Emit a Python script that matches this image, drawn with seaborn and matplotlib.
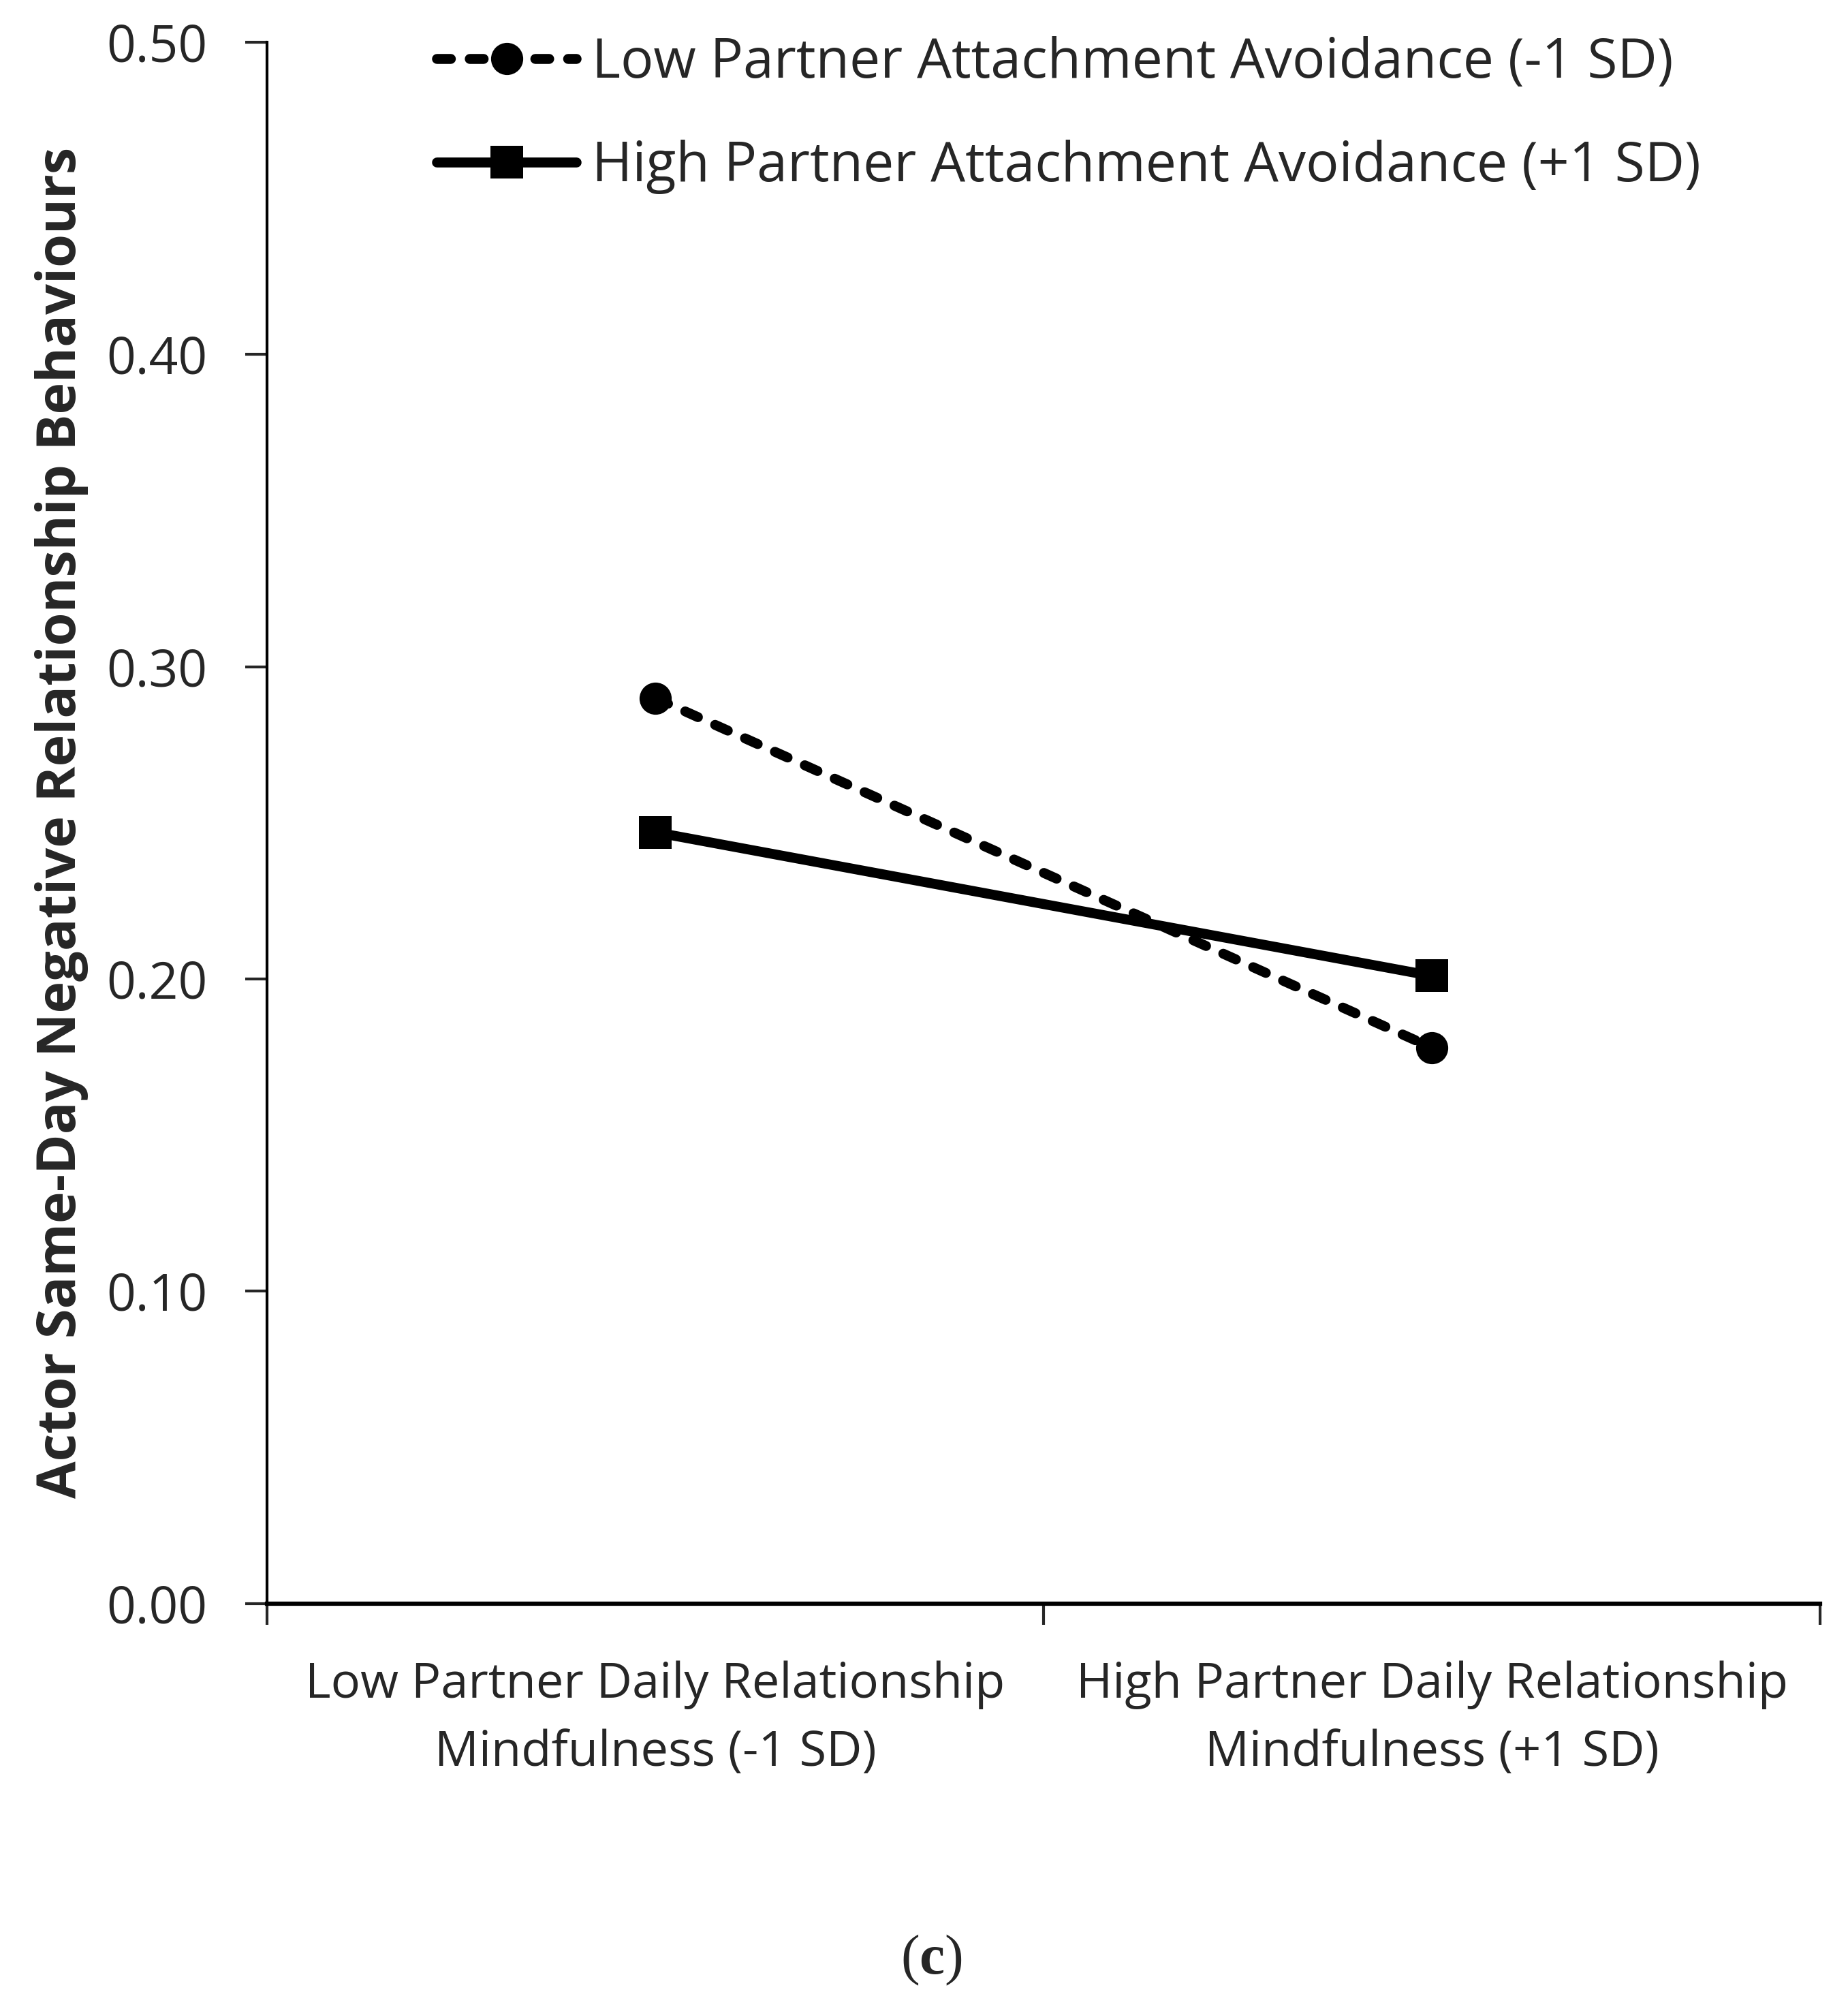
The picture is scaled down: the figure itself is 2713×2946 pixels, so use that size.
import matplotlib
matplotlib.use('Agg')
import matplotlib.pyplot as plt
import pandas as pd
import seaborn as sns

# Data
conditions = ['Low Partner Daily Relationship\nMindfulness (-1 SD)',
              'High Partner Daily Relationship\nMindfulness (+1 SD)']
series_names = ['Low Partner Attachment Avoidance (-1 SD)',
                'High Partner Attachment Avoidance (+1 SD)']
low_avoid = [0.290, 0.178]
high_avoid = [0.247, 0.201]
y_ticks = [0.00, 0.10, 0.20, 0.30, 0.40, 0.50]

df = pd.DataFrame({
    'x': [0, 1, 0, 1],
    'y': low_avoid + high_avoid,
    'group': [series_names[0]] * 2 + [series_names[1]] * 2,
})

sns.set_style('white')
plt.rcParams['font.family'] = ['Open Sans', 'DejaVu Sans']
plt.rcParams['mathtext.fontset'] = 'custom'
plt.rcParams['mathtext.rm'] = 'Liberation Serif'
plt.rcParams['mathtext.bf'] = 'Liberation Serif:bold'

LW = 10.5
MS = 34

fig = plt.figure(figsize=(27.13, 29.46), dpi=100)
ax = fig.add_axes([0.1445, 0.201, 0.8405, 0.778])

sns.lineplot(data=df, x='x', y='y', hue='group', style='group',
             palette=['black', 'black'], markers=['o', 's'],
             dashes=[(1.4, 1.9), ''], linewidth=LW, markersize=MS,
             markeredgewidth=0, dash_capstyle='round', solid_capstyle='round',
             ax=ax, legend=True)
for ln in ax.lines:
    ln.set_linewidth(LW)
    ln.set_markersize(MS)

ax.set_xlim(-0.5, 1.5)
ax.set_ylim(0, 0.5)
ax.set_yticks(y_ticks)
ax.set_yticklabels([f'{v:.2f}' for v in y_ticks])
ax.set_xticks([-0.5, 0.5, 1.5])
ax.set_xticklabels(['', '', ''])
ax.set_xticks([0, 1], minor=True)
ax.set_xticklabels(conditions, minor=True, linespacing=1.53)
ax.tick_params(axis='x', which='minor', length=0, pad=60, labelsize=52)
ax.tick_params(axis='x', which='major', length=22, width=3, direction='out', bottom=True)
ax.tick_params(axis='y', length=23, width=3, direction='out', left=True, labelsize=54, pad=40)

for s in ['top', 'right']:
    ax.spines[s].set_visible(False)
ax.spines['left'].set_linewidth(3)
ax.spines['bottom'].set_linewidth(4.5)
ax.spines['left'].set_color('black')
ax.spines['bottom'].set_color('black')

ax.set_xlabel('')
ax.set_ylabel('Actor Same-Day Negative Relationship Behaviours',
              fontsize=57, fontweight='bold')
ax.yaxis.set_label_coords(-0.115, 0.5)

leg = ax.legend(loc='upper left', bbox_to_anchor=(0.095, 1.018), frameon=False,
                fontsize=58, handlelength=2.55, handletextpad=0.28, labelspacing=0.88,
                borderaxespad=0)
for h in leg.legend_handles:
    h.set_linewidth(LW)
    h.set_markersize(MS)

fig.text(0.504, 0.0238, r'$\mathrm{(}\mathbf{c}\mathrm{)}$', ha='center', va='center', fontsize=60)

fig.savefig('out.png', dpi=100)
